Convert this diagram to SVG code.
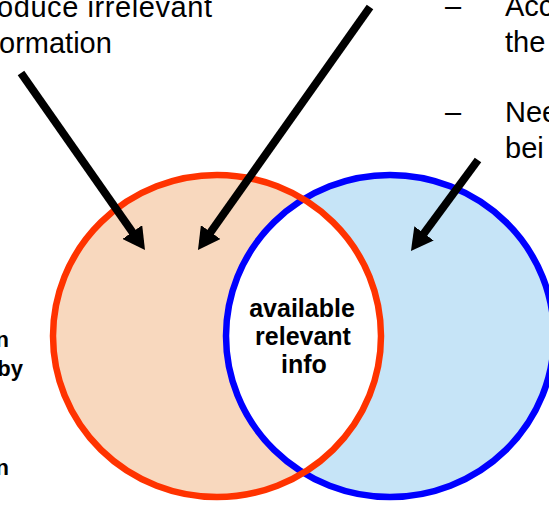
<svg xmlns="http://www.w3.org/2000/svg" width="549" height="505" viewBox="0 0 549 505">
<style>
.t{font-family:"Liberation Sans",Arial,sans-serif;font-size:29px;fill:#000}
.b{font-family:"Liberation Sans",Arial,sans-serif;font-size:22px;font-weight:bold;fill:#000}
.c{font-family:"Liberation Sans",Arial,sans-serif;font-size:25px;font-weight:bold;fill:#000;text-anchor:middle}
.arrow{stroke:#000;stroke-width:8;fill:none;marker-end:url(#head)}
</style>
<defs>
<marker id="head" viewBox="0 0 22 24" refX="14" refY="12" markerWidth="2.75" markerHeight="3" orient="auto" markerUnits="strokeWidth">
<path d="M0,0 L22,12 L0,24 z" fill="#000"/>
</marker>
<clipPath id="redClip"><ellipse cx="217" cy="336" rx="164" ry="161"/></clipPath>
</defs>
<rect width="549" height="505" fill="#fff"/>
<g id="red-set">
<ellipse cx="217" cy="336" rx="164" ry="161" fill="#F8D8BE"/>
</g>
<g id="blue-set">
<ellipse cx="390" cy="336" rx="164" ry="161" fill="#C6E4F7"/>
</g>
<g id="intersection">
<ellipse cx="390" cy="336" rx="164" ry="161" fill="#fff" clip-path="url(#redClip)"/>
<text class="c" x="302" y="317">available</text>
<text class="c" x="303" y="345">relevant</text>
<text class="c" x="304" y="373">info</text>
</g>
<g id="outlines">
<ellipse cx="390" cy="336" rx="164" ry="161" fill="none" stroke="#0000FF" stroke-width="6.5"/>
<ellipse cx="217" cy="336" rx="164" ry="161" fill="none" stroke="#FF3300" stroke-width="6.5"/>
</g>
<g id="text-left">
<text class="t" x="-3" y="17" textLength="215" lengthAdjust="spacing">oduce irrelevant</text>
<text class="t" x="-1" y="53">ormation</text>
</g>
<g id="text-right">
<text class="t" x="445" y="16">–</text>
<text class="t" x="505" y="16">Acc</text>
<text class="t" x="505" y="52">the</text>
<text class="t" x="445" y="122">–</text>
<text class="t" x="505" y="122">Nee</text>
<text class="t" x="505" y="158">bei</text>
</g>
<g id="text-bottom-left">
<text class="b" x="9" y="347" text-anchor="end">n</text>
<text class="b" x="23" y="376" text-anchor="end">by</text>
<text class="b" x="9" y="475" text-anchor="end">n</text>
</g>
<g id="connectors">
<line class="arrow" x1="21" y1="73" x2="140.4" y2="243.5"/>
<line class="arrow" x1="370" y1="7" x2="202.6" y2="243.5"/>
<line class="arrow" x1="478" y1="160" x2="415.7" y2="244.6"/>
</g>
</svg>
